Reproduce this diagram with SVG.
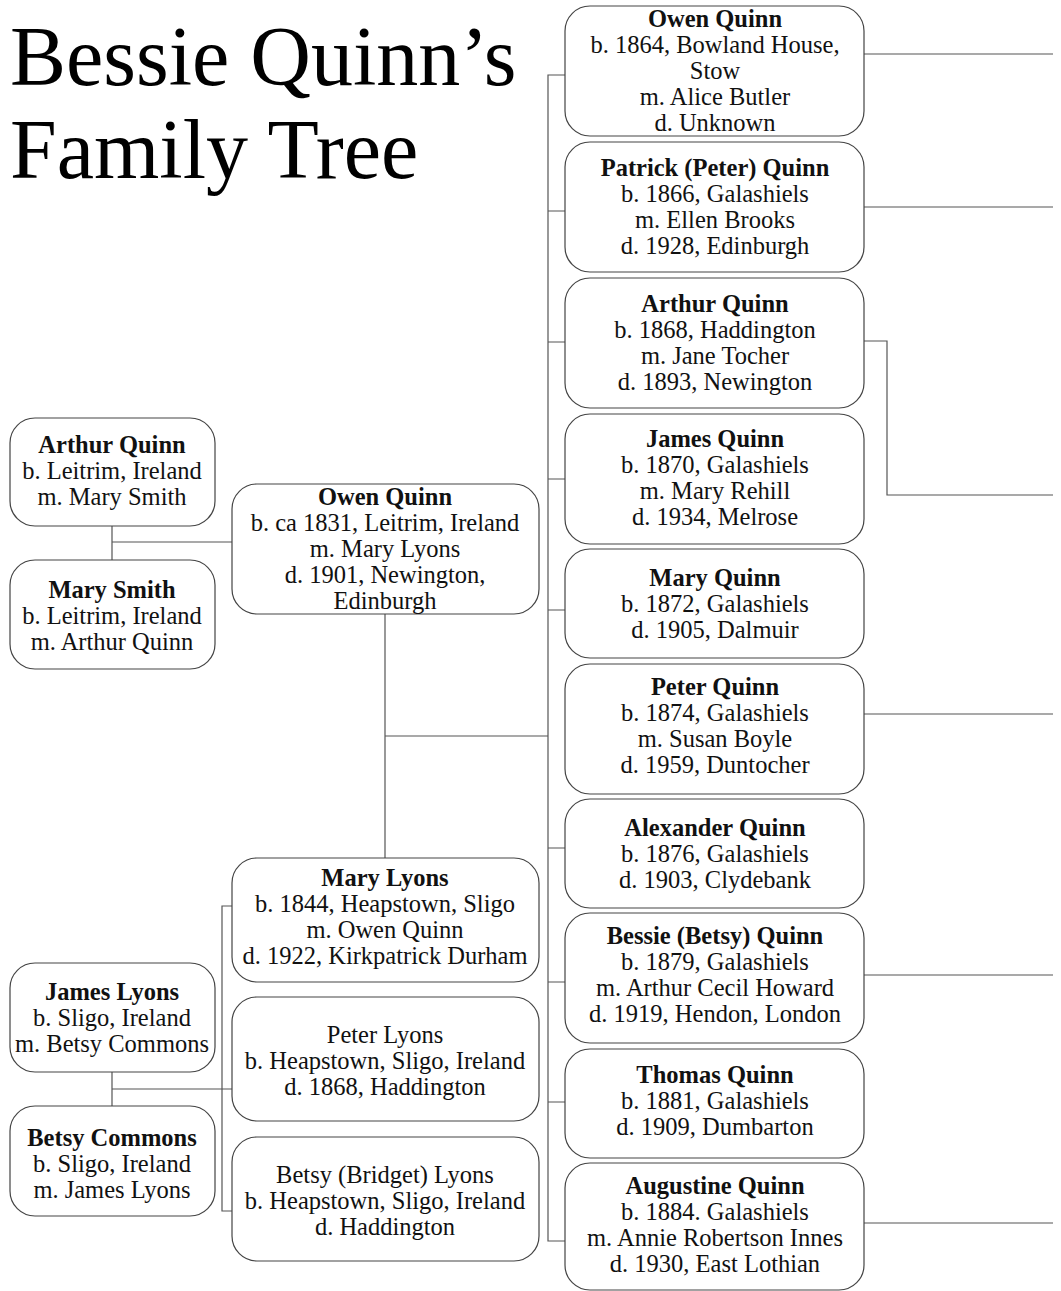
<svg xmlns="http://www.w3.org/2000/svg" width="1061" height="1291" viewBox="0 0 1061 1291">
<style>
.box{fill:#fff;stroke:#444;stroke-width:1.2}
.ln{fill:none;stroke:#555;stroke-width:1.2}
text{font-family:"Liberation Serif","Times New Roman",serif;fill:#111;text-anchor:middle;font-size:24.5px}
.b{font-weight:bold}
.title{font-size:84px;text-anchor:start;fill:#000}
</style>
<rect width="1061" height="1291" fill="#fff"/>
<g id="title">
<text class="title" x="10" y="85">Bessie Quinn’s</text>
<text class="title" x="10" y="178">Family Tree</text>
</g>
<g id="connectors">
<path class="ln" d="M112,526V560M112,542H232"/>
<path class="ln" d="M385,614V858M385,736H548"/>
<path class="ln" d="M112,1072V1106M112,1089H232"/>
<path class="ln" d="M232,906H222V1211H232"/>
<path class="ln" d="M565,75H548V1241H565M548,211H565M548,342H565M548,479H565M548,610H565M548,848H565M548,982H565M548,1102H565"/>
<path class="ln" d="M864,54H1053M864,207H1053M864,341H887V495H1053M864,714H1053M864,975H1053M864,1223H1053"/>
</g>
<g id="arthur-quinn-sr">
<rect class="box" x="10" y="418" width="205" height="108" rx="25"/>
<text class="b" x="112" y="453">Arthur Quinn</text>
<text x="112" y="479">b. Leitrim, Ireland</text>
<text x="112" y="505">m. Mary Smith</text>
</g>
<g id="mary-smith">
<rect class="box" x="10" y="560" width="205" height="109" rx="25"/>
<text class="b" x="112" y="598">Mary Smith</text>
<text x="112" y="624">b. Leitrim, Ireland</text>
<text x="112" y="650">m. Arthur Quinn</text>
</g>
<g id="owen-quinn-sr">
<rect class="box" x="232" y="484" width="307" height="130" rx="25"/>
<text class="b" x="385" y="505">Owen Quinn</text>
<text x="385" y="531">b. ca 1831, Leitrim, Ireland</text>
<text x="385" y="557">m. Mary Lyons</text>
<text x="385" y="583">d. 1901, Newington,</text>
<text x="385" y="609">Edinburgh</text>
</g>
<g id="mary-lyons">
<rect class="box" x="232" y="858" width="307" height="124" rx="25"/>
<text class="b" x="385" y="886">Mary Lyons</text>
<text x="385" y="912">b. 1844, Heapstown, Sligo</text>
<text x="385" y="938">m. Owen Quinn</text>
<text x="385" y="964">d. 1922, Kirkpatrick Durham</text>
</g>
<g id="peter-lyons">
<rect class="box" x="232" y="997" width="307" height="124" rx="25"/>
<text x="385" y="1043">Peter Lyons</text>
<text x="385" y="1069">b. Heapstown, Sligo, Ireland</text>
<text x="385" y="1095">d. 1868, Haddington</text>
</g>
<g id="betsy-bridget-lyons">
<rect class="box" x="232" y="1137" width="307" height="124" rx="25"/>
<text x="385" y="1183">Betsy (Bridget) Lyons</text>
<text x="385" y="1209">b. Heapstown, Sligo, Ireland</text>
<text x="385" y="1235">d. Haddington</text>
</g>
<g id="james-lyons">
<rect class="box" x="10" y="963" width="205" height="109" rx="25"/>
<text class="b" x="112" y="1000">James Lyons</text>
<text x="112" y="1026">b. Sligo, Ireland</text>
<text x="112" y="1052">m. Betsy Commons</text>
</g>
<g id="betsy-commons">
<rect class="box" x="10" y="1106" width="205" height="110" rx="25"/>
<text class="b" x="112" y="1146">Betsy Commons</text>
<text x="112" y="1172">b. Sligo, Ireland</text>
<text x="112" y="1198">m. James Lyons</text>
</g>
<g id="owen-quinn">
<rect class="box" x="565" y="6" width="299" height="130" rx="25"/>
<text class="b" x="715" y="27">Owen Quinn</text>
<text x="715" y="53">b. 1864, Bowland House,</text>
<text x="715" y="79">Stow</text>
<text x="715" y="105">m. Alice Butler</text>
<text x="715" y="131">d. Unknown</text>
</g>
<g id="patrick-quinn">
<rect class="box" x="565" y="142" width="299" height="130" rx="25"/>
<text class="b" x="715" y="176">Patrick (Peter) Quinn</text>
<text x="715" y="202">b. 1866, Galashiels</text>
<text x="715" y="228">m. Ellen Brooks</text>
<text x="715" y="254">d. 1928, Edinburgh</text>
</g>
<g id="arthur-quinn">
<rect class="box" x="565" y="278" width="299" height="130" rx="25"/>
<text class="b" x="715" y="312">Arthur Quinn</text>
<text x="715" y="338">b. 1868, Haddington</text>
<text x="715" y="364">m. Jane Tocher</text>
<text x="715" y="390">d. 1893, Newington</text>
</g>
<g id="james-quinn">
<rect class="box" x="565" y="414" width="299" height="130" rx="25"/>
<text class="b" x="715" y="447">James Quinn</text>
<text x="715" y="473">b. 1870, Galashiels</text>
<text x="715" y="499">m. Mary Rehill</text>
<text x="715" y="525">d. 1934, Melrose</text>
</g>
<g id="mary-quinn">
<rect class="box" x="565" y="549" width="299" height="109" rx="25"/>
<text class="b" x="715" y="586">Mary Quinn</text>
<text x="715" y="612">b. 1872, Galashiels</text>
<text x="715" y="638">d. 1905, Dalmuir</text>
</g>
<g id="peter-quinn">
<rect class="box" x="565" y="664" width="299" height="130" rx="25"/>
<text class="b" x="715" y="695">Peter Quinn</text>
<text x="715" y="721">b. 1874, Galashiels</text>
<text x="715" y="747">m. Susan Boyle</text>
<text x="715" y="773">d. 1959, Duntocher</text>
</g>
<g id="alexander-quinn">
<rect class="box" x="565" y="799" width="299" height="109" rx="25"/>
<text class="b" x="715" y="836">Alexander Quinn</text>
<text x="715" y="862">b. 1876, Galashiels</text>
<text x="715" y="888">d. 1903, Clydebank</text>
</g>
<g id="bessie-quinn">
<rect class="box" x="565" y="913" width="299" height="130" rx="25"/>
<text class="b" x="715" y="944">Bessie (Betsy) Quinn</text>
<text x="715" y="970">b. 1879, Galashiels</text>
<text x="715" y="996">m. Arthur Cecil Howard</text>
<text x="715" y="1022">d. 1919, Hendon, London</text>
</g>
<g id="thomas-quinn">
<rect class="box" x="565" y="1049" width="299" height="109" rx="25"/>
<text class="b" x="715" y="1083">Thomas Quinn</text>
<text x="715" y="1109">b. 1881, Galashiels</text>
<text x="715" y="1135">d. 1909, Dumbarton</text>
</g>
<g id="augustine-quinn">
<rect class="box" x="565" y="1163" width="299" height="127" rx="25"/>
<text class="b" x="715" y="1194">Augustine Quinn</text>
<text x="715" y="1220">b. 1884. Galashiels</text>
<text x="715" y="1246">m. Annie Robertson Innes</text>
<text x="715" y="1272">d. 1930, East Lothian</text>
</g>
</svg>
